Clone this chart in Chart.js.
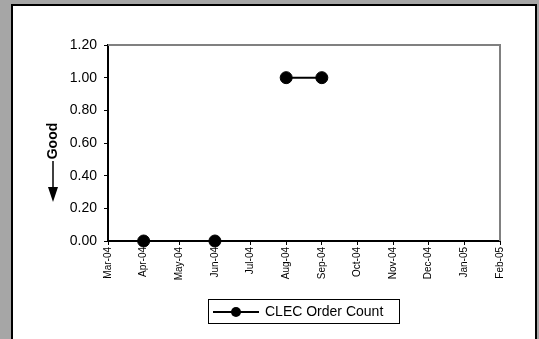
<!DOCTYPE html>
<html>
<head>
<meta charset="utf-8">
<script src="https://cdn.jsdelivr.net/npm/chart.js@4"></script>
<style>
  html, body { margin: 0; padding: 0; background: #a6a6a6; }
  #wrap { width: 539px; height: 339px; }
</style>
</head>
<body>
<div id="wrap"><canvas id="myChart" width="539" height="339"></canvas></div>
<script>
const meses = ['Mar-04', 'Apr-04', 'May-04', 'Jun-04', 'Jul-04', 'Aug-04',
               'Sep-04', 'Oct-04', 'Nov-04', 'Dec-04', 'Jan-05', 'Feb-05'];
const qtdPedidos = [null, 0, null, 0, null, 1, 1, null, null, null, null, null];
const nomeSerie = 'CLEC Order Count';
const eixoY = { min: 0, max: 1.2, passo: 0.2 };

const fonte = "Arial, 'Liberation Sans', sans-serif";

// moldura cinza/branca, seta "Good" e legenda desenhada a mao
const moldura = {
    id: 'moldura',
    beforeDraw(chart) {
        const c = chart.ctx;
        c.save();
        c.fillStyle = '#a6a6a6';
        c.fillRect(0, 0, chart.width, chart.height);
        c.fillStyle = '#ffffff';
        c.fillRect(12, 5, 524, 400);
        c.strokeStyle = '#000';
        c.lineWidth = 2;
        c.strokeRect(12, 5, 524, 400);
        c.restore();
    },
    beforeDatasetsDraw(chart) {
        const a = chart.chartArea;
        const c = chart.ctx;
        c.save();
        c.strokeStyle = '#808080';
        c.lineWidth = 2;
        c.beginPath();
        c.moveTo(a.left, a.top);
        c.lineTo(a.right, a.top);
        c.lineTo(a.right, a.bottom);
        c.stroke();
        c.restore();
    },
    afterDraw(chart) {
        const c = chart.ctx;
        c.save();
        // texto "Good" com seta para baixo
        c.fillStyle = '#000';
        c.font = 'bold 14px ' + fonte;
        c.translate(53, 141);
        c.rotate(-Math.PI / 2);
        c.textAlign = 'center';
        c.textBaseline = 'middle';
        c.fillText('Good', 0, 0);
        c.restore();

        c.save();
        c.strokeStyle = '#000';
        c.lineWidth = 1.5;
        c.beginPath();
        c.moveTo(53, 161);
        c.lineTo(53, 189);
        c.stroke();
        c.fillStyle = '#000';
        c.beginPath();
        c.moveTo(48, 187);
        c.lineTo(58, 187);
        c.lineTo(53, 202);
        c.closePath();
        c.fill();

        // legenda
        c.lineWidth = 1;
        c.strokeRect(208.5, 299.5, 191, 24);
        c.lineWidth = 2;
        c.beginPath();
        c.moveTo(213, 312);
        c.lineTo(259, 312);
        c.stroke();
        c.beginPath();
        c.arc(236, 312, 5, 0, Math.PI * 2);
        c.fill();
        c.font = '14px ' + fonte;
        c.textAlign = 'left';
        c.textBaseline = 'middle';
        c.fillText(chart.data.datasets[0].label, 265, 312);
        c.restore();
    }
};

new Chart(document.getElementById('myChart'), {
    type: 'line',
    data: {
        labels: meses,
        datasets: [{
            label: nomeSerie,
            data: qtdPedidos,
            borderColor: '#000',
            backgroundColor: '#000',
            borderWidth: 2,
            pointRadius: 6,
            pointBorderWidth: 1,
            pointBackgroundColor: '#000',
            spanGaps: false,
            clip: false
        }]
    },
    options: {
        responsive: false,
        animation: false,
        layout: { padding: { left: 0, top: 45, right: 39, bottom: 0 } },
        scales: {
            x: {
                offset: false,
                afterFit: (s) => { s.height = 98; },
                grid: { display: true, drawOnChartArea: false, offset: false, tickLength: 4, color: '#000' },
                border: { color: '#000', width: 2 },
                ticks: {
                    autoSkip: false,
                    minRotation: 90,
                    maxRotation: 90,
                    padding: 2,
                    color: '#000',
                    font: { family: fonte, size: 10 }
                }
            },
            y: {
                min: eixoY.min,
                max: eixoY.max,
                afterFit: (s) => { s.width = 108; },
                grid: { display: true, drawOnChartArea: false, tickLength: 4, color: '#000' },
                border: { color: '#000', width: 2 },
                ticks: {
                    stepSize: eixoY.passo,
                    padding: 7,
                    color: '#000',
                    font: { family: fonte, size: 14 },
                    callback: (v) => Number(v).toFixed(2)
                }
            }
        },
        plugins: {
            legend: { display: false },
            tooltip: { enabled: false },
            title: { display: false }
        }
    },
    plugins: [moldura]
});
</script>
</body>
</html>
